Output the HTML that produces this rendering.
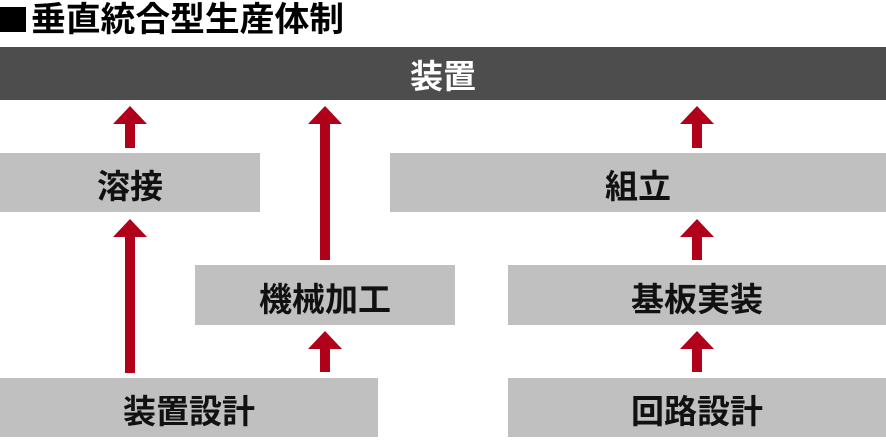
<!DOCTYPE html>
<html><head><meta charset="utf-8"><style>
html,body{margin:0;padding:0;background:#fff;}
svg text{font-family:"Liberation Sans","Noto Sans CJK JP",sans-serif;font-weight:bold;}
</style></head><body>
<svg width="886" height="437" viewBox="0 0 886 437" xmlns="http://www.w3.org/2000/svg">
<rect x="0" y="7" width="26" height="25" fill="#000"/>
<text x="31" y="31" font-size="34" fill="#000" textLength="313" lengthAdjust="spacingAndGlyphs">垂直統合型生産体制</text>
<rect x="0" y="47" width="886" height="53" fill="#4d4d4d"/>
<text x="443" y="88" font-size="33" fill="#fff" text-anchor="middle">装置</text>
<g fill="#c0c0c0">
<rect x="0" y="153" width="260" height="59"/>
<rect x="390" y="153" width="496" height="59"/>
<rect x="195" y="265" width="260" height="60"/>
<rect x="508" y="265" width="378" height="60"/>
<rect x="0" y="378" width="378" height="59"/>
<rect x="508" y="378" width="378" height="59"/>
</g>
<g font-size="33" fill="#111" text-anchor="middle">
<text x="130" y="198">溶接</text>
<text x="638" y="198">組立</text>
<text x="325" y="311">機械加工</text>
<text x="697" y="311">基板実装</text>
<text x="189" y="423">装置設計</text>
<text x="697" y="423">回路設計</text>
</g>
<g fill="#b0001a">
<polygon points="130,106 147,124 135,124 135,148 125,148 125,124 113,124"/>
<polygon points="325,106 342,124 330,124 330,260 320,260 320,124 308,124"/>
<polygon points="697,106 714,124 702,124 702,148 692,148 692,124 680,124"/>
<polygon points="130,219 147,237 135,237 135,373 125,373 125,237 113,237"/>
<polygon points="325,331 342,349 330,349 330,372 320,372 320,349 308,349"/>
<polygon points="697,219 714,237 702,237 702,260 692,260 692,237 680,237"/>
<polygon points="697,331 714,349 702,349 702,372 692,372 692,349 680,349"/>
</g>
</svg>
</body></html>
